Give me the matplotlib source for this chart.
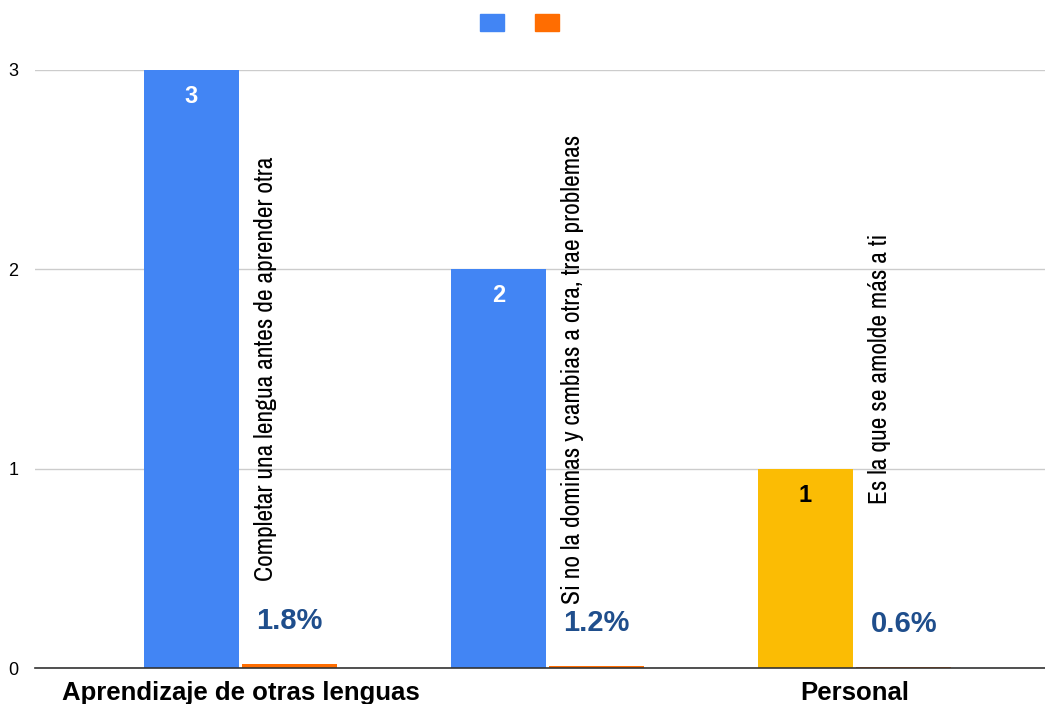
import numpy as np
import matplotlib
matplotlib.use('Agg')
import matplotlib.pyplot as plt
from matplotlib.patches import Patch
from matplotlib import font_manager as fm

plt.rcParams['font.family'] = ['Liberation Sans', 'DejaVu Sans']

categories = ['Aprendizaje de otras lenguas', '', 'Personal']
counts = [3, 2, 1]
shares = [0.018, 0.012, 0.006]
share_labels = ['1.8%', '1.2%', '0.6%']
notes = ['Completar una lengua antes de aprender otra',
         'Si no la dominas y cambias a otra, trae problemas',
         'Es la que se amolde más a ti']
bar_colors = ['#4285F4', '#4285F4', '#FBBC04']
count_label_colors = ['white', 'white', 'black']

# a narrow face for the upright notes, if one is installed
narrow = [f.name for f in fm.fontManager.ttflist
          if 'Narrow' in f.name or 'Condensed' in f.name]
note_family = [narrow[0], 'Liberation Sans'] if narrow else ['Liberation Sans']

x = np.arange(len(categories))
w = 0.31

fig = plt.figure(figsize=(10.45, 7.04), dpi=100)
ax = fig.add_axes([0.0335, 0.0511, 0.9665, 0.8495])

bars = ax.bar(x - 0.16, counts, w, color=bar_colors, zorder=3)
small = ax.bar(x + 0.16, shares, w, color='#FF6D01', zorder=3)

for b, v, c in zip(bars, counts, count_label_colors):
    ax.annotate(str(v), (b.get_x() + b.get_width() / 2, v), xytext=(0, -19),
                textcoords='offset points', ha='center', va='center',
                fontsize=17, fontweight='bold', color=c, zorder=4)

for b, v, lab in zip(small, shares, share_labels):
    ax.annotate(lab, (b.get_x() + b.get_width() / 2, v), xytext=(0, 31),
                textcoords='offset points', ha='center', va='center',
                fontsize=21, fontweight='bold', color='#1f4e8c', zorder=4)

# notes written upright beside each group
note_texts = []
for i, t in enumerate(notes):
    note_texts.append(ax.text(x[i] + 0.08, 1.5, t, rotation=90, ha='center',
                              va='center', fontsize=15.2, family=note_family,
                              color='black', zorder=4))

# first note should run about 423 px tall
r = fig.canvas.get_renderer()
h = note_texts[0].get_window_extent(r).height
size = 15.2 * 423 / h
for nt in note_texts:
    nt.set_fontsize(size)

ax.set_xlim(-0.669, 2.62)
ax.set_ylim(0, 3)
ax.set_yticks([0, 1, 2, 3])
ax.set_yticklabels(['0', '1', '2', '3'], fontsize=13)
ax.set_xticks(x)
ax.set_xticklabels(categories, fontsize=18.5, fontweight='bold')
ax.tick_params(axis='both', length=0)
ax.tick_params(axis='y', pad=12)
ax.tick_params(axis='x', pad=9)

ax.grid(axis='y', color='#cccccc', linewidth=1, zorder=0)
for s in ['top', 'right', 'left']:
    ax.spines[s].set_visible(False)
ax.spines['bottom'].set_color('#333333')
ax.spines['bottom'].set_linewidth(1.2)
ax.spines['bottom'].set_zorder(5)

handles = [Patch(color='#4285F4'), Patch(color='#FF6D01')]
fig.legend(handles, ['', ''], loc='center', bbox_to_anchor=(0.497, 0.9666),
           ncol=2, frameon=False, fontsize=14, handlelength=1.24,
           handleheight=1.0, handletextpad=0, columnspacing=1.6)

fig.savefig('out.png', dpi=100)
